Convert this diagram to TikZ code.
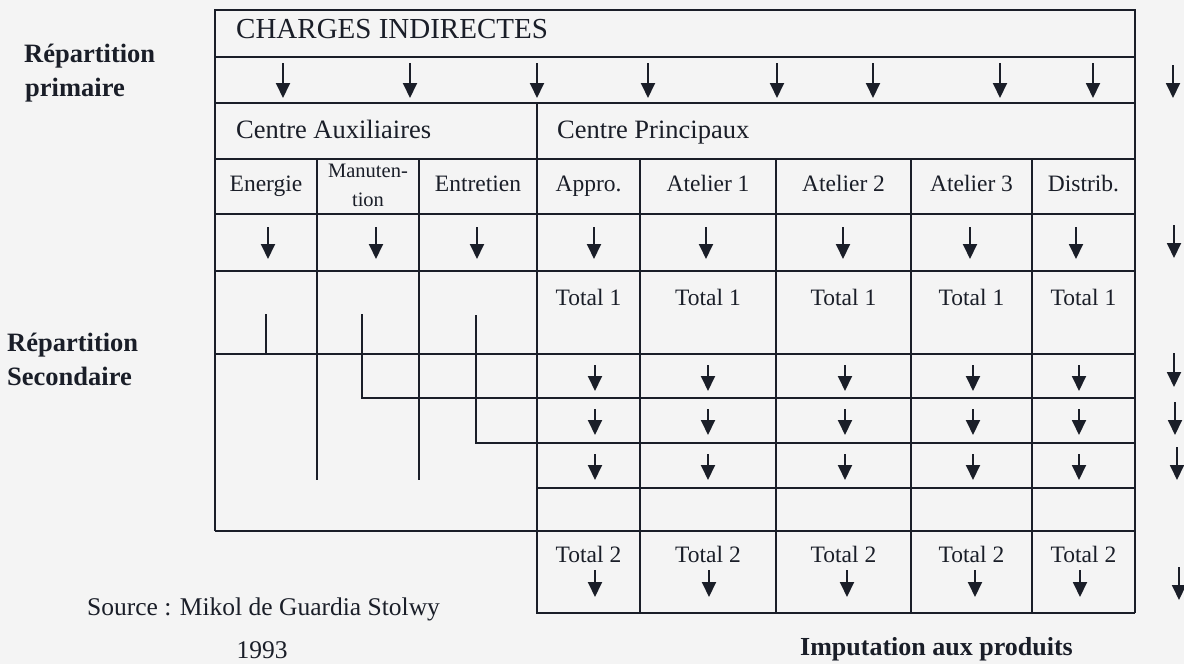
\documentclass[tikz,border=0pt]{standalone}
\usepackage{fontspec}
\setmainfont{Liberation Serif}
\usetikzlibrary{arrows.meta}
\definecolor{ink}{HTML}{1A1E28}
\definecolor{paper}{HTML}{F4F4F4}

\begin{document}
\begin{tikzpicture}[x=1pt,y=-1pt,
  rule/.style={draw=ink,line width=1.7pt},
  heavy/.style={draw=ink,line width=2.8pt},
  down/.style={draw=ink,line width=1.9pt,-{Triangle[length=15pt,width=14pt]}},
  lbl/.style={text=ink,inner sep=0pt,anchor=base},
  cellf/.style={lbl,font=\fontsize{23.5}{26}\selectfont},
  smallf/.style={lbl,font=\fontsize{20.5}{24}\selectfont},
  headf/.style={lbl,anchor=base west,font=\fontsize{26.5}{30}\selectfont},
  sidef/.style={lbl,anchor=base west,font=\fontsize{26.5}{30}\selectfont\bfseries},
]
\fill[paper] (0,0) rectangle (1184,664);
\useasboundingbox (0,0) rectangle (1184,664);

% outer frame and full-width rules
\draw[rule] (215,531) -- (215,10) -- (1135,10) -- (1135,613);
\foreach \y in {57,103,159,214,271,354,531}
  \draw[rule] (215,\y) -- (1135,\y);
% rows of the main centres
\foreach \y in {398,443,488}
  \draw[rule] (537,\y) -- (1135,\y);
\draw[heavy] (537,103) -- (537,613) -- (1135,613);
% column separators
\foreach \x in {317,419}
  \draw[rule] (\x,159) -- (\x,480);
\foreach \x in {640,776,911,1032}
  \draw[rule] (\x,159) -- (\x,613);
% transfer lines of the auxiliary centres
\draw[rule] (266,314) -- (266,354);
\draw[rule] (362,314) -- (362,398) -- (537,398);
\draw[rule] (476,315) -- (476,443) -- (537,443);

% primary distribution arrows
\foreach \x in {283,410,537,648,777,873,1000,1093}
  \draw[down] (\x,63) -- (\x,98);
\draw[down] (1173,65) -- (1173,98);
\foreach \x in {268,376,477,594,706,843,970,1076}
  \draw[down] (\x,227) -- (\x,259);
\draw[down] (1174,225) -- (1174,258);
% secondary distribution arrows
\foreach \y in {354,398,443}
  \foreach \x in {595,708,845,973,1079}
    \draw[down] (\x,\y+11) -- (\x,\y+37);
\draw[down] (1174,353) -- (1174,387);
\draw[down] (1175,402) -- (1175,435);
\draw[down] (1177,447) -- (1177,480);
% allocation to products
\foreach \x in {595,709,847,975,1080}
  \draw[down] (\x,570) -- (\x,597);
\draw[down] (1179,567) -- (1179,600);

% headings
\node[headf,font=\fontsize{29}{33}\selectfont] (charges) at (236,38.5) {CHARGES INDIRECTES};
\node[headf] (aux) at (236,138) {Centre Auxiliaires};
\node[headf] (princ) at (557,138) {Centre Principaux};

% centre names
\node[cellf] (energie) at (266,191) {Energie};
\node[smallf] (manut1) at (368,177) {Manuten-};
\node[smallf] (manut2) at (368,206) {tion};
\node[cellf] (entretien) at (478,191) {Entretien};
\node[cellf] (appro) at (588.5,191) {Appro.};
\node[cellf] (at1) at (708,191) {Atelier 1};
\node[cellf] (at2) at (843.5,191) {Atelier 2};
\node[cellf] (at3) at (971.5,191) {Atelier 3};
\node[cellf] (distrib) at (1083.5,191) {Distrib.};

% totals
\foreach \x/\n in {588.5/a,708/b,843.5/c,971.5/d,1083.5/e}{
  \node[cellf] (tot1\n) at (\x,305) {Total 1};
  \node[cellf] (tot2\n) at (\x,562) {Total 2};
}

% side labels
\node[sidef] (rp1) at (24,62) {Répartition};
\node[sidef] (rp2) at (25,96.5) {primaire};
\node[sidef] (rs1) at (7,351) {Répartition};
\node[sidef] (rs2) at (7,385) {Secondaire};

% source and caption
\node[lbl,anchor=base west,font=\fontsize{25.5}{30}\selectfont] (source) at (87,615) {Source : Mikol de Guardia Stolwy};
\node[lbl,font=\fontsize{25.5}{30}\selectfont] (year) at (262,658) {1993};
\node[sidef,font=\fontsize{26}{30}\selectfont\bfseries] (imput) at (800,655) {Imputation aux produits};
\end{tikzpicture}
\end{document}
